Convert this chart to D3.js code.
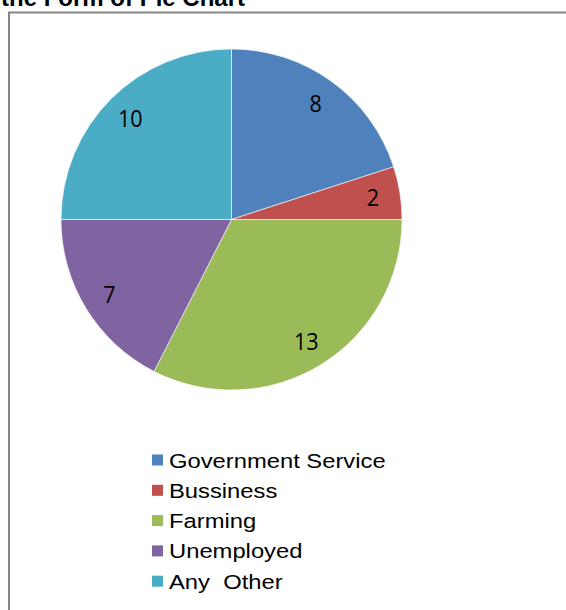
<!DOCTYPE html>
<html lang="en">
<head>
    <meta charset="UTF-8">
    <title>Pie Chart</title>
    <script src="https://cdn.jsdelivr.net/npm/d3@7"></script>
    <style>
        body{
            margin: 0;
            background: #fff;
        }
        .title{
            font-family: "Liberation Sans", Arial, sans-serif;
            font-weight: bold;
            font-size: 24px;
            fill: #000;
        }
        .sliceLabel{
            font-family: "Open Sans", "Liberation Sans", sans-serif;
            font-size: 24px;
            fill: #000;
        }
        .legendText{
            font-family: "Liberation Sans", Arial, sans-serif;
            font-size: 20.5px;
            fill: #000;
        }
    </style>
</head>
<body>
<div class="container"></div>
<script>
    // data
    const categories = ["Government Service", "Bussiness", "Farming", "Unemployed", "Any  Other"];
    const values = [8, 2, 13, 7, 10];
    const colors = ["#4F81BD", "#C0504D", "#9BBB59", "#8064A2", "#4BACC6"];

    const width = 566, height = 610;
    const cx = 231.5, cy = 219.5, radius = 170.5;

    const svg = d3.select(".container")
        .append("svg")
        .attr("width", width)
        .attr("height", height)
        .attr("viewBox", `0 0 ${width} ${height}`);

    // chart frame (runs off the right and bottom)
    svg.append("rect")
        .attr("x", 9).attr("y", 12.5)
        .attr("width", 600).attr("height", 640)
        .attr("fill", "none")
        .attr("stroke", "#868686")
        .attr("stroke-width", 2);

    // title, cut at the top like the reference
    svg.append("text")
        .attr("class", "title")
        .attr("x", 1).attr("y", 5.5)
        .text("the Form of Pie Chart");

    const data = categories.map((c, i) => ({name: c, value: values[i], color: colors[i]}));

    const pie = d3.pie().value(d => d.value).sort(null);
    const arc = d3.arc().innerRadius(0).outerRadius(radius);
    const labelArc = d3.arc().innerRadius(radius * 0.84).outerRadius(radius * 0.84);

    const g = svg.append("g").attr("transform", `translate(${cx},${cy})`);

    g.selectAll("path")
        .data(pie(data))
        .join("path")
        .attr("d", arc)
        .attr("fill", d => d.data.color)
        .attr("stroke", "#fff")
        .attr("stroke-width", 0.6);

    g.selectAll(".sliceLabel")
        .data(pie(data))
        .join("text")
        .attr("class", "sliceLabel")
        .attr("transform", d => `translate(${labelArc.centroid(d)}) scale(0.9,1)`)
        .attr("text-anchor", "middle")
        .attr("dy", "0.36em")
        .text(d => d.data.value);

    // legend
    const legend = svg.append("g").attr("transform", "translate(152,460)");
    const rows = legend.selectAll("g")
        .data(data)
        .join("g")
        .attr("transform", (d, i) => `translate(0,${i * 30.3})`);

    rows.append("rect")
        .attr("x", 0).attr("y", -5.5)
        .attr("width", 11).attr("height", 11)
        .attr("fill", d => d.color);

    // the reference glyphs are drawn a bit wider than Arial, so stretch x
    rows.append("text")
        .attr("class", "legendText")
        .attr("transform", "translate(17,7.5) scale(1.16,1)")
        .attr("xml:space", "preserve")
        .style("white-space", "pre")
        .text(d => d.name);
</script>
</body>
</html>
